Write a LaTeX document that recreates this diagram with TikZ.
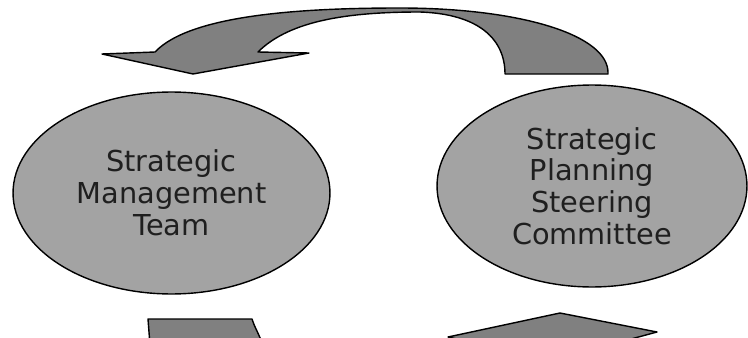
\documentclass[tikz,border=0pt]{standalone}
\usepackage{fontspec}
\newfontfamily\bubblefont{DejaVu Sans}
\usetikzlibrary{shapes.geometric}
\begin{document}
\begin{tikzpicture}[x=0.02cm, y=-0.02cm, line join=round, line cap=round, line width=0.8pt,
    bubble/.style={ellipse, draw=black, fill=black!36, inner sep=0pt, align=center,
        text=black!88, font=\bubblefont\fontsize{16.4}{18.1}\selectfont},
    band/.style={draw=black, fill=black!50}]
    \useasboundingbox (0,0) rectangle (748,338);
    \clip (0,0) rectangle (748,338);
    \path
    (102,54) coordinate (L)
    (155,52) coordinate (O)
    (400,8) coordinate (P)
    (608,74) coordinate (Q)
    (505,74) coordinate (R)
    (420,12) coordinate (S)
    (258,52) coordinate (B)
    (309,53) coordinate (B')
    (193,74) coordinate (H)
    (148,319) coordinate (U)
    (252,319) coordinate (V)
    (263,345) coordinate (W)
    (150,345) coordinate (X)
    (448,337) coordinate (E)
    (560,313) coordinate (F)
    (657,332) coordinate (G)
    (620,342) coordinate (G')
    (470,342) coordinate (E')
    ;
    \node[bubble, minimum width=6.34cm, minimum height=4.04cm] (smt) at (171.5,193)
        {Strategic\\Management\\Team};
    \node[bubble, minimum width=6.2cm, minimum height=4.04cm] (spsc) at (592,186)
        {Strategic\\Planning\\Steering\\Committee};

    \draw[band] (O) .. controls (190,15) and (300,8) .. (P)
        .. controls (520,8) and (610,35) .. (Q) -- (R)
        .. controls (505,40) and (480,14) .. (S)
        .. controls (350,12) and (290,20) .. (B)
        -- (B') -- (H) -- (L) -- cycle;
    \draw[band] (U) -- (V) .. controls (254,326) and (258,332) .. (W) -- (X) -- cycle;
    \draw[band] (E) -- (F) -- (G) -- (G') -- (E') -- cycle;
\end{tikzpicture}
\end{document}
